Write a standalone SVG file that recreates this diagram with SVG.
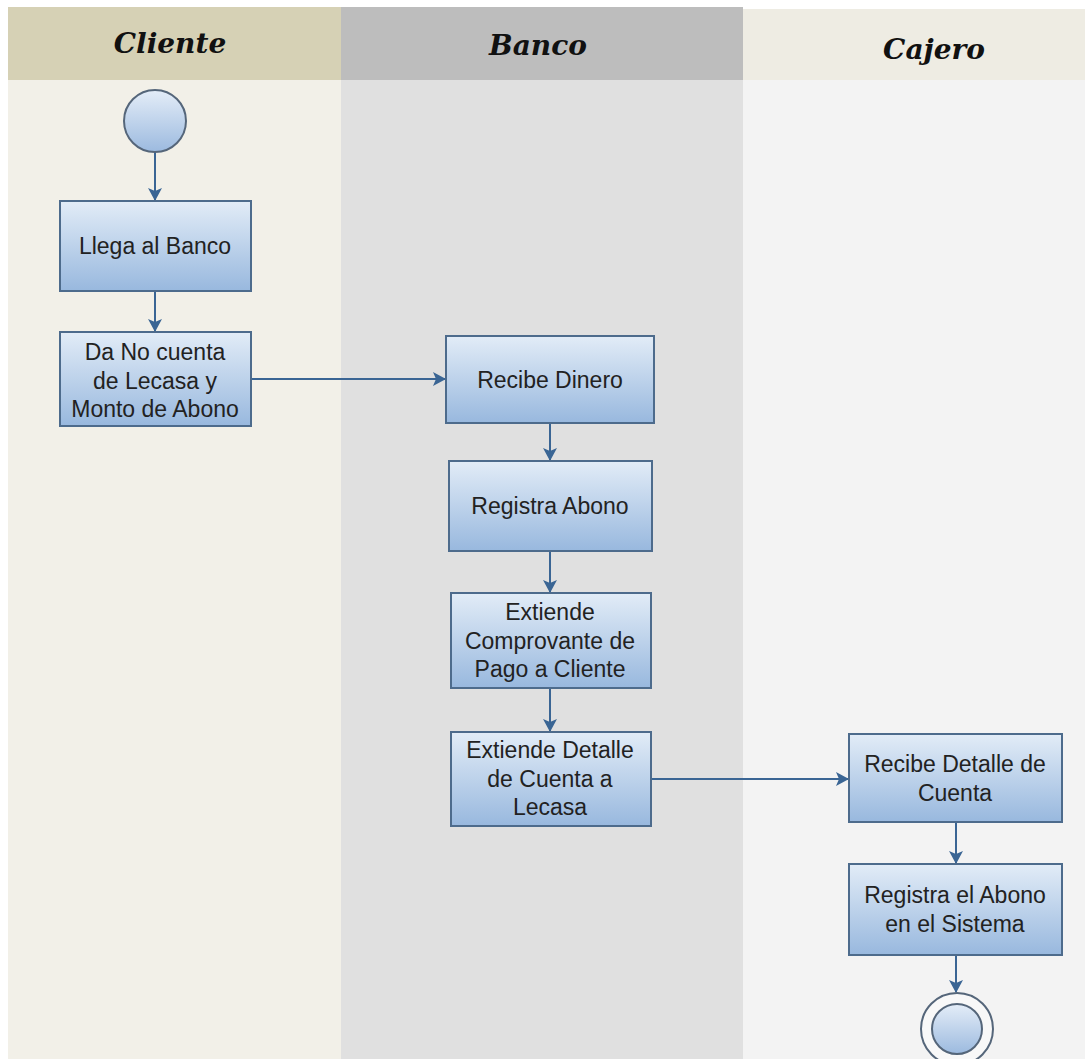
<svg xmlns="http://www.w3.org/2000/svg" width="1085" height="1059" viewBox="0 0 1085 1059">
<defs>
<linearGradient id="boxg" x1="0" y1="0" x2="0" y2="1">
<stop offset="0" stop-color="#e2ecf7"/>
<stop offset="1" stop-color="#98b8de"/>
</linearGradient>
<linearGradient id="circg" x1="0" y1="0" x2="0" y2="1">
<stop offset="0" stop-color="#e4edf8"/>
<stop offset="1" stop-color="#9cbadf"/>
</linearGradient>
<marker id="arr" markerWidth="13" markerHeight="14" refX="12" refY="7" orient="auto" markerUnits="userSpaceOnUse">
<path d="M0,0 L13,7 L0,14 L3,7 Z" fill="#3a6594"/>
</marker>
<style>
.box{fill:url(#boxg);stroke:#4d6b8c;stroke-width:2}
.circ{fill:url(#circg);stroke:#55667a;stroke-width:2}
.t{font-family:"Liberation Sans",Arial,sans-serif;font-size:23px;fill:#222;text-anchor:middle}
.h{font-family:"DejaVu Serif","Liberation Serif",serif;font-size:28px;font-weight:bold;font-style:italic;fill:#111;text-anchor:middle}
.c{stroke:#3a6594;stroke-width:2;fill:none;marker-end:url(#arr)}
</style>
</defs>
<rect x="0" y="0" width="1085" height="1059" fill="#ffffff"/>
<g id="lanes">
<rect x="8" y="80" width="333" height="979" fill="#f2f0e8"/>
<rect x="341" y="80" width="402" height="979" fill="#e0e0e0"/>
<rect x="743" y="80" width="342" height="979" fill="#f3f3f3"/>
<rect x="8" y="7" width="333" height="73" fill="#d6d1b5"/>
<rect x="341" y="7" width="402" height="73" fill="#bdbdbd"/>
<rect x="743" y="9" width="342" height="71" fill="#eeece3"/>
<text class="h" x="170" y="53">Cliente</text>
<text class="h" x="538" y="55">Banco</text>
<text class="h" x="934" y="59">Cajero</text>
</g>
<g id="connectors">
<line class="c" x1="155" y1="152" x2="155" y2="200"/>
<line class="c" x1="155" y1="291" x2="155" y2="331"/>
<line class="c" x1="251" y1="379" x2="445" y2="379"/>
<line class="c" x1="550" y1="423" x2="550" y2="460"/>
<line class="c" x1="550" y1="551" x2="550" y2="592"/>
<line class="c" x1="550" y1="688" x2="550" y2="731"/>
<line class="c" x1="651" y1="779" x2="848" y2="779"/>
<line class="c" x1="956" y1="822" x2="956" y2="863"/>
<line class="c" x1="956" y1="955" x2="956" y2="992"/>
</g>
<g id="start"><circle class="circ" cx="155" cy="121" r="31"/></g>
<g id="n1"><rect class="box" x="60" y="201" width="191" height="90"/><text class="t" x="155" y="254">Llega al Banco</text></g>
<g id="n2"><rect class="box" x="60" y="332" width="191" height="94"/><text class="t" x="155" y="360">Da No cuenta</text><text class="t" x="155" y="389">de Lecasa y</text><text class="t" x="155" y="417">Monto de Abono</text></g>
<g id="n3"><rect class="box" x="446" y="336" width="208" height="87"/><text class="t" x="550" y="388">Recibe Dinero</text></g>
<g id="n4"><rect class="box" x="449" y="461" width="203" height="90"/><text class="t" x="550" y="514">Registra Abono</text></g>
<g id="n5"><rect class="box" x="451" y="593" width="200" height="95"/><text class="t" x="550" y="620">Extiende</text><text class="t" x="550" y="649">Comprovante de</text><text class="t" x="550" y="677">Pago a Cliente</text></g>
<g id="n6"><rect class="box" x="451" y="732" width="200" height="94"/><text class="t" x="550" y="758">Extiende Detalle</text><text class="t" x="550" y="787">de Cuenta a</text><text class="t" x="550" y="815">Lecasa</text></g>
<g id="n7"><rect class="box" x="849" y="734" width="213" height="88"/><text class="t" x="955" y="772">Recibe Detalle de</text><text class="t" x="955" y="801">Cuenta</text></g>
<g id="n8"><rect class="box" x="849" y="864" width="213" height="91"/><text class="t" x="955" y="903">Registra el Abono</text><text class="t" x="955" y="932">en el Sistema</text></g>
<g id="end"><circle cx="957" cy="1029" r="36" fill="#f8f8f8" stroke="#55667a" stroke-width="2"/><circle class="circ" cx="957" cy="1029" r="25"/></g>
</svg>
